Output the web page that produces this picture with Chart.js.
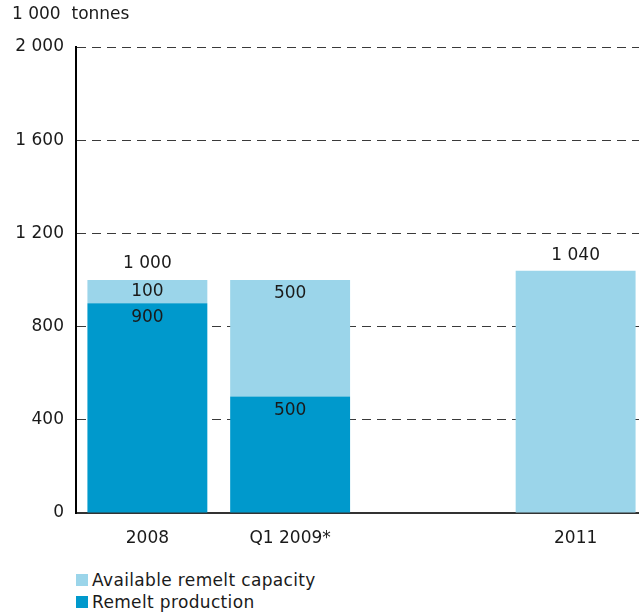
<!DOCTYPE html>
<html>
<head>
<meta charset="utf-8">
<script src="https://cdn.jsdelivr.net/npm/chart.js@4/dist/chart.umd.min.js"></script>
<style>
    html, body { margin: 0; padding: 0; background: #fff; overflow: hidden; }
    .wrap { position: relative; width: 639px; height: 613px; overflow: hidden; }
    .chart-box { position: absolute; left: 0; top: 0; width: 647px; height: 560px; }
    .legend { position: absolute; left: 76px; top: 569px; font: 17px "DejaVu Sans", sans-serif; color: #1a1a1a; letter-spacing: 0.35px; }
    .legend div { display: flex; align-items: center; height: 22px; }
    .legend span.box { display: inline-block; width: 12px; height: 12px; margin-right: 4px; }
</style>
</head>
<body>
<div class="wrap">
    <div class="chart-box"><canvas id="myChart"></canvas></div>
    <div class="legend" id="legend"></div>
</div>
<script>
const categories = ["2008", "Q1 2009*", "", "2011"];
const remeltProduction = [900, 500, null, null];
const remeltCapacity = [100, 500, null, 1040];
const showTotal = [true, false, false, false];
const yTicks = [0, 400, 800, 1200, 1600, 2000];

const DARK = "#0099cc";
const LIGHT = "#9bd5ea";
const FONT = "DejaVu Sans";
const TEXT = "#1a1a1a";
const SIZE = 17;

// "1000" -> "1 000"
const fmt = v => String(v).replace(/\B(?=(\d{3})+(?!\d))/g, " ");

const valueLabels = {
    id: "valueLabels",
    afterDatasetsDraw(chart) {
        const ctx = chart.ctx;
        ctx.save();
        ctx.font = `${SIZE}px "${FONT}"`;
        ctx.fillStyle = TEXT;
        ctx.textAlign = "center";
        ctx.textBaseline = "middle";

        chart.data.datasets.forEach((ds, di) => {
            const meta = chart.getDatasetMeta(di);
            meta.data.forEach((bar, i) => {
                const v = ds.data[i];
                if (v == null) return;
                const top = Math.min(bar.y, bar.base);
                const bottom = Math.max(bar.y, bar.base);
                const stacked = remeltProduction[i] != null && remeltCapacity[i] != null;
                let y;
                if (stacked) {
                    y = Math.min(top + 14, (top + bottom) / 2);
                } else {
                    y = top - 15;
                }
                ctx.fillText(fmt(v), bar.x, y);
            });
        });

        // totals above the stack
        const topMeta = chart.getDatasetMeta(1);
        categories.forEach((c, i) => {
            if (!showTotal[i]) return;
            const bar = topMeta.data[i];
            const total = (remeltProduction[i] || 0) + (remeltCapacity[i] || 0);
            ctx.fillText(fmt(total), bar.x, chart.scales.y.getPixelForValue(total) - 16);
        });
        ctx.restore();
    }
};

const unitTitle = {
    id: "unitTitle",
    afterDraw(chart) {
        const ctx = chart.ctx;
        ctx.save();
        ctx.font = `${SIZE}px "${FONT}"`;
        ctx.fillStyle = TEXT;
        ctx.textAlign = "left";
        ctx.textBaseline = "middle";
        ctx.fillText("1 000  tonnes", 12, 15);
        ctx.restore();
    }
};

const ctx = document.querySelector("#myChart");
new Chart(ctx, {
    type: "bar",
    data: {
        labels: categories,
        datasets: [
            {
                label: "Remelt production",
                data: remeltProduction,
                backgroundColor: DARK,
                borderWidth: 0
            },
            {
                label: "Available remelt capacity",
                data: remeltCapacity,
                backgroundColor: LIGHT,
                borderWidth: 0
            }
        ]
    },
    options: {
        responsive: true,
        maintainAspectRatio: false,
        animation: false,
        devicePixelRatio: 1,
        layout: { padding: { top: 47, left: 0, right: 0, bottom: 0 } },
        datasets: { bar: { barPercentage: 0.84, categoryPercentage: 1 } },
        plugins: {
            legend: { display: false },
            tooltip: { enabled: false }
        },
        scales: {
            x: {
                stacked: true,
                grid: { display: false, drawTicks: false },
                border: { display: true, color: "#333", width: 2 },
                ticks: {
                    color: TEXT,
                    font: { family: FONT, size: SIZE },
                    padding: 15
                },
                afterFit: s => { s.height = 47; }
            },
            y: {
                stacked: true,
                min: 0,
                max: 2000,
                afterBuildTicks: s => { s.ticks = yTicks.map(v => ({ value: v })); },
                grid: { color: "#3a3a3a", lineWidth: 1, drawTicks: false },
                border: { display: true, color: "#000", width: 2, dash: [9, 6] },
                ticks: {
                    color: TEXT,
                    font: { family: FONT, size: SIZE },
                    padding: 12,
                    callback: v => fmt(v)
                },
                afterFit: s => { s.width = 76; }
            }
        }
    },
    plugins: [valueLabels, unitTitle]
});

// legend, top item first
const legendItems = [
    { label: "Available remelt capacity", color: LIGHT },
    { label: "Remelt production", color: DARK }
];
document.querySelector("#legend").innerHTML = legendItems
    .map(item => `<div><span class="box" style="background:${item.color}"></span>${item.label}</div>`)
    .join("");
</script>
</body>
</html>
